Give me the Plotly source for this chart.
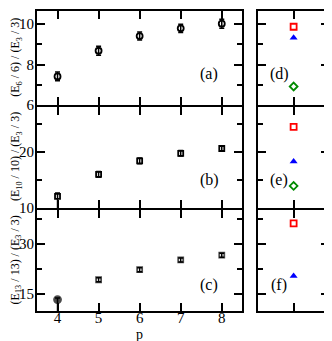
import plotly.graph_objects as go

p = [4, 5, 6, 7, 8]

# Row (a): (E6/6)/(E3/3)
a_vals = [7.41, 8.68, 9.41, 9.79, 10.02]
a_err = [0.22, 0.22, 0.2, 0.2, 0.22]
# Row (b): (E10/10)/(E3/3)
b_vals = [12.1, 16.0, 18.4, 19.75, 20.6]
b_err_plus = [0.6, 0.5, 0.5, 0.5, 0.5]
b_err_minus = [2.3, 0.5, 0.5, 0.5, 0.5]
# Row (c): (E13/13)/(E3/3)
c_vals = [13.4, 19.3, 22.3, 25.2, 26.6]
c_err_plus = [0.5, 0.6, 0.6, 0.6, 0.6]
c_err_minus = [4.0, 0.6, 0.6, 0.6, 0.6]

# Right panels: red square, blue triangle, green diamond
d_red, d_blue, d_green = 9.87, 9.32, 6.91
e_red, e_blue, e_green = 24.46, 18.3, 13.95
f_red, f_blue = 36.05, 20.4

ytitles = ["(E<sub>6</sub> / 6) / (E<sub>3</sub> / 3)",
           "(E<sub>10</sub> / 10) / (E<sub>3</sub> / 3)",
           "(E<sub>13</sub> / 13) / (E<sub>3</sub> / 3)"]
panel_labels = ["(a)", "(b)", "(c)", "(d)", "(e)", "(f)"]
x_title = "p"

FONT = "Liberation Serif, Times New Roman, serif"
# The page body has an 8px default margin, so the figure is sized to fill the
# rest of the 332x341 window, and positions below are given in window pixels.
OFF = 8
W, H = 332 - OFF, 341 - OFF
ml, mr, mt, mb = 37 - OFF, 2, 1, H - (311 - OFF)
pw, ph = W - ml - mr, H - mt - mb

def px_x(x):
    return (x - OFF - ml) / pw

def px_y(y):
    return (H - mb - (y - OFF)) / ph

xdom_left = [0, px_x(243)]
xdom_right = [px_x(259), 1]
ydoms = [[px_y(103.5), 1.0], [px_y(207.5), px_y(105.5)], [0, px_y(209.5)]]
yranges = [[6, 10.65], [10, 28], [10, 40]]
ydticks = [2, 10, 15]
yminor = [1, 5, 7.5]

fig = go.Figure()

def add(x, y, axn, **kw):
    xa = "x" if axn == 1 else f"x{axn}"
    ya = "y" if axn == 1 else f"y{axn}"
    fig.add_trace(go.Scatter(x=x, y=y, xaxis=xa, yaxis=ya, mode="markers",
                             showlegend=False, cliponaxis=True, **kw))

blk = dict(color="black", thickness=1.5, width=2.5)
add(p, a_vals, 1, marker=dict(symbol="circle-open", size=6, color="black", line=dict(width=1.8)),
    error_y=dict(type="data", array=a_err, **blk))
add(p, b_vals, 3, marker=dict(symbol="square-open", size=5, color="black", line=dict(width=1.8)),
    error_y=dict(type="data", symmetric=False, array=b_err_plus, arrayminus=b_err_minus, **blk))
c_sym = ["circle"] + ["square-open"] * 4
c_size = [7, 5, 5, 5, 5]
add(p, c_vals, 5, marker=dict(symbol=c_sym, size=c_size, color="black", line=dict(width=1.8, color="black")),
    error_y=dict(type="data", symmetric=False, array=c_err_plus, arrayminus=c_err_minus, **blk))

red = dict(symbol="square-open", size=6, color="#ff0000", line=dict(width=1.8))
blue = dict(symbol="triangle-up", size=7, color="#0000ff")
green = dict(symbol="diamond-open", size=6, color="#008b00", line=dict(width=1.8))
add([1], [d_red], 2, marker=red)
add([1], [d_blue], 2, marker=blue)
add([1], [d_green], 2, marker=green)
add([1], [e_red], 4, marker=red)
add([1], [e_blue], 4, marker=blue)
add([1], [e_green], 4, marker=green)
add([1], [f_red], 6, marker=red)
add([1], [f_blue], 6, marker=blue)

common = dict(showline=True, linewidth=2, linecolor="black", mirror="ticks",
              ticks="inside", ticklen=8, tickwidth=2, tickcolor="black",
              showgrid=False, zeroline=False,
              tickfont=dict(family=FONT, size=15, color="black"))

layout = {}
for r in range(3):
    for c in range(2):
        n = r * 2 + c + 1
        xk = "xaxis" if n == 1 else f"xaxis{n}"
        yk = "yaxis" if n == 1 else f"yaxis{n}"
        yname = "y" if n == 1 else f"y{n}"
        xname = "x" if n == 1 else f"x{n}"
        if c == 0:
            xax = dict(common, domain=xdom_left, range=[3.5, 8.5], tickvals=p,
                       showticklabels=(r == 2), anchor=yname, ticklabelstandoff=-8)
        else:
            xax = dict(common, domain=xdom_right, range=[0, 2], tickvals=[1],
                       showticklabels=False, anchor=yname)
        yax = dict(common, domain=ydoms[r], range=yranges[r], dtick=ydticks[r], tick0=0,
                   showticklabels=(c == 0), anchor=xname, ticklabelstandoff=-2,
                   minor=dict(ticks="inside", ticklen=5, tickwidth=2, tickcolor="black",
                              dtick=yminor[r], tick0=0))
        layout[xk] = xax
        layout[yk] = yax

annotations = []
ycenters = [56, 156, 260]
for i, t in enumerate(ytitles):
    annotations.append(dict(text=t, textangle=-90, xref="paper", yref="paper",
                            x=px_x(16), y=px_y(ycenters[i]), showarrow=False,
                            xanchor="center", yanchor="middle",
                            font=dict(family=FONT, size=12, color="black")))
lab_pos = [(210, 72), (210, 179), (210, 285), (280, 72), (280, 179), (280, 285)]
for lbl, (x, y) in zip(panel_labels, lab_pos):
    annotations.append(dict(text=lbl, xref="paper", yref="paper", x=px_x(x), y=px_y(y),
                            showarrow=False, xanchor="center", yanchor="middle",
                            font=dict(family=FONT, size=16, color="black")))
annotations.append(dict(text=x_title, xref="paper", yref="paper", x=px_x(140), y=px_y(335),
                        showarrow=False, xanchor="center", yanchor="middle",
                        font=dict(family=FONT, size=14, color="black")))

fig.update_layout(width=W, height=H, margin=dict(l=ml, r=mr, t=mt, b=mb),
                  plot_bgcolor="white", paper_bgcolor="white",
                  annotations=annotations, **layout)

fig.write_html("out.html")
